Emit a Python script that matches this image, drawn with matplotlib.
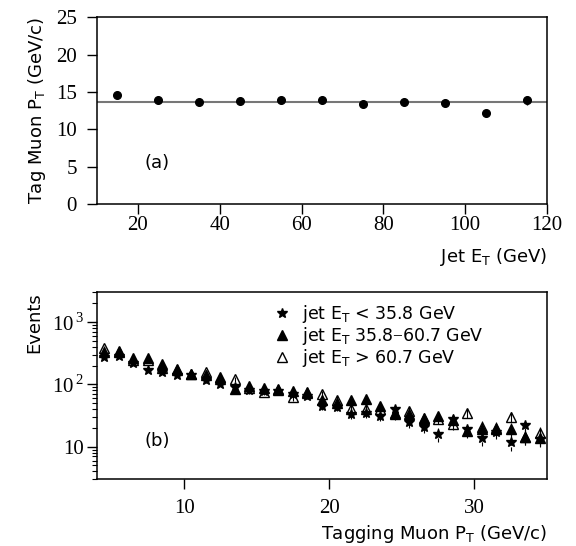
import matplotlib
matplotlib.use('Agg')
import matplotlib.pyplot as plt
import matplotlib.ticker as mticker
from matplotlib.lines import Line2D
import numpy as np

plt.rcParams['mathtext.fontset'] = 'custom'
plt.rcParams['mathtext.rm'] = 'Liberation Serif'
plt.rcParams['mathtext.sf'] = 'DejaVu Sans'

# panel (a): mean tag muon pT vs jet ET
jet_et = [15, 25, 35, 45, 55, 65, 75, 85, 95, 105, 115]
mean_pt = [14.6, 13.95, 13.6, 13.8, 13.95, 13.95, 13.4, 13.65, 13.5, 12.15, 13.9]
mean_pt_err = [0.15, 0.15, 0.15, 0.15, 0.15, 0.15, 0.2, 0.2, 0.25, 0.3, 0.6]
fit_level = 13.7

# panel (b): tagging muon pT spectra in three jet ET bins
mu_pt = np.arange(4.5, 35, 1.0)
ev_low = [275, 285, 218, 170, 158, 142, 140, 116, 103, 90, 80, 79, 79, 70, 66, 45,
          44, 34, 35, 31, 41, 25, 21, 16, 28, 19, 14, 17.5, 12, 22, 13.5]
ev_mid = [325, 325, 268, 265, 214, 175, 148, 140, 131, 85, 93, 88, 85, 77, 75, 57,
          51, 56, 58, 45, 35, 33, 29, 31, 27, 18, 19, 20, 19.5, 14.5, 14]
ev_high = [387, 340, 245, 250, 182, 168, 145, 160, 124, 120, 88, 75, 80, 62, 72, 70,
           57, 40, 40, 40, 33, 37, 28, 28, 23, 35, 21, 19, 30, 14.5, 16.5]
legend_labels = [r'jet E$_\mathsf{T}$ < 35.8 GeV',
                 r'jet E$_\mathsf{T}$ 35.8$-$60.7 GeV',
                 r'jet E$_\mathsf{T}$ > 60.7 GeV']

serif = 'Liberation Serif'
sans = 'DejaVu Sans'

fig = plt.figure(figsize=(5.76, 5.46), dpi=100)
ax1 = fig.add_axes([0.1684, 0.6264, 0.7813, 0.342])
ax2 = fig.add_axes([0.1684, 0.1222, 0.7813, 0.3424])

# ---- top panel
ax1.axhline(fit_level, color='#777777', lw=1.5, zorder=1)
ax1.errorbar(jet_et, mean_pt, yerr=mean_pt_err, fmt='o', color='black',
             ms=5.5, elinewidth=1, capsize=0, zorder=3)
ax1.set_xlim(10, 120)
ax1.set_ylim(0, 25)
ax1.set_xticks([20, 40, 60, 80, 100, 120])
ax1.set_yticks([0, 5, 10, 15, 20, 25])
ax1.text(24.6, 5.5, '(a)', family=sans, fontsize=13, ha='center', va='center')
ax1.set_ylabel(r'Tag Muon P$_\mathsf{T}$ (GeV/c)', family=sans, fontsize=13, labelpad=6)
ax1.set_xlabel(r'Jet E$_\mathsf{T}$ (GeV)', family=sans, fontsize=13, loc='right', labelpad=8)
ax1.tick_params(axis='both', direction='out', length=7.5, width=1, labelsize=15,
                top=False, right=False)
ax1.tick_params(axis='x', pad=1)
ax1.tick_params(axis='y', pad=7)

# ---- bottom panel
ax2.errorbar(mu_pt, ev_high, yerr=np.sqrt(ev_high), fmt='^', mfc='none', mec='black',
             ecolor='black', ms=7.5, mew=1, elinewidth=0.8, capsize=0, zorder=2)
ax2.errorbar(mu_pt, ev_mid, yerr=np.sqrt(ev_mid), fmt='^', color='black',
             ms=7.5, elinewidth=0.8, capsize=0, zorder=3)
eb = ax2.errorbar(mu_pt, ev_low, yerr=np.sqrt(ev_low), fmt='*', color='black',
                  ms=7, elinewidth=0.8, capsize=0, zorder=4)
eb[2][0].set_linestyle('--')

ax2.set_yscale('log')
ax2.set_xlim(4, 35)
ax2.set_ylim(3, 3000)
ax2.set_xticks([10, 20, 30])
ax2.yaxis.set_major_locator(mticker.FixedLocator([10, 100, 1000]))
ax2.yaxis.set_major_formatter(mticker.FixedFormatter(['10', r'10$^{\,2}$', r'10$^{\,3}$']))
ax2.yaxis.set_minor_locator(mticker.LogLocator(base=10, subs=np.arange(2, 10)))
ax2.yaxis.set_minor_formatter(mticker.NullFormatter())
ax2.tick_params(axis='both', which='major', direction='out', length=7.5, width=1,
                labelsize=15, top=False, right=False)
ax2.tick_params(axis='y', which='minor', direction='out', length=3.5, width=0.8, right=False)
ax2.tick_params(axis='x', pad=7)
ax2.tick_params(axis='y', pad=2)
ax2.text(8.15, 12.3, '(b)', family=sans, fontsize=13, ha='center', va='center')
ax2.set_ylabel('Events', family=sans, fontsize=13, loc='top', labelpad=6)
ax2.set_xlabel(r'Tagging Muon P$_\mathsf{T}$ (GeV/c)', family=sans, fontsize=13,
               loc='right', labelpad=3)

handles = [Line2D([], [], ls='none', marker='*', color='black', ms=7),
           Line2D([], [], ls='none', marker='^', color='black', ms=7.5),
           Line2D([], [], ls='none', marker='^', mfc='none', mec='black', ms=7.5)]
ax2.legend(handles, legend_labels, loc='upper left', bbox_to_anchor=(0.372, 1.0),
           frameon=False, prop={'family': sans, 'size': 12.5}, handlelength=0.8,
           handletextpad=0.75, labelspacing=0.0, borderaxespad=0.2)

for ax in (ax1, ax2):
    for s in ax.spines.values():
        s.set_linewidth(1.1)
    for lab in ax.get_xticklabels() + ax.get_yticklabels():
        lab.set_family(serif)

plt.savefig('out.png', dpi=100)
